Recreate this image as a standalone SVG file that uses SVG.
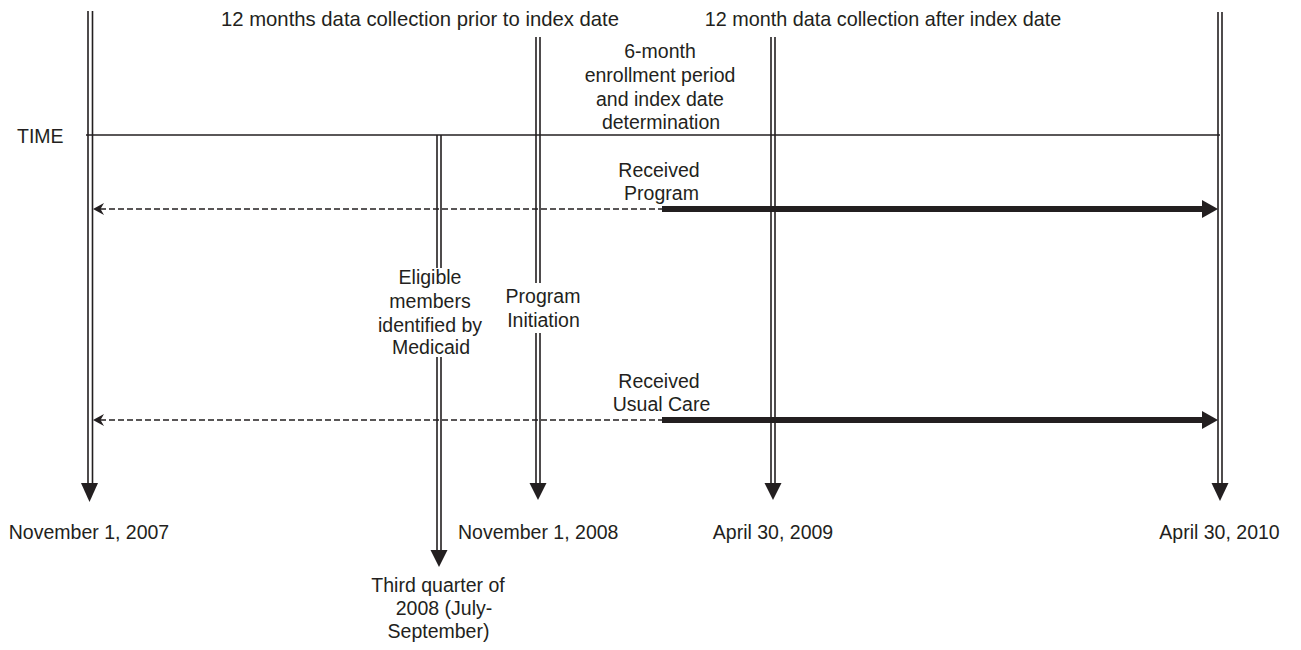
<svg xmlns="http://www.w3.org/2000/svg" width="1301" height="650" viewBox="0 0 1301 650">
<style>
text{font-family:"Liberation Sans",Arial,sans-serif;font-size:19.5px;fill:#231f20}
.c{text-anchor:middle}
.v{stroke:#231f20;stroke-width:1.6;fill:none}
.ah{fill:#231f20}
.thin{stroke:#231f20;stroke-width:1.5;fill:none}
.dash{stroke:#231f20;stroke-width:1.6;stroke-dasharray:6,3;fill:none}
.thick{stroke:#231f20;stroke-width:6;fill:none}
</style>
<rect width="1301" height="650" fill="#fff"/>

<g id="time-axis">
<text x="17" y="143">TIME</text>
<line class="thin" x1="86" y1="135" x2="1220" y2="135"/>
</g>

<g id="headers">
<text class="c" x="420" y="26" style="font-size:20.3px">12 months data collection prior to index date</text>
<text class="c" x="883" y="26" style="font-size:19.8px">12 month data collection after index date</text>
<text class="c" x="660" y="57.5">6-month</text>
<text class="c" x="660" y="81.5">enrollment period</text>
<text class="c" x="660" y="105.5">and index date</text>
<text class="c" x="661" y="129">determination</text>
</g>

<g id="node-nov2007">
<line class="v" x1="88" y1="11" x2="88" y2="485"/>
<line class="v" x1="92.5" y1="11" x2="92.5" y2="485"/>
<path class="ah" d="M81,483 L98,483 L89.5,502 Z"/>
<text class="c" x="89" y="539">November 1, 2007</text>
</g>

<g id="node-eligible">
<line class="v" x1="437" y1="135" x2="437" y2="268"/>
<line class="v" x1="441" y1="135" x2="441" y2="268"/>
<line class="v" x1="437" y1="357" x2="437" y2="552"/>
<line class="v" x1="441" y1="357" x2="441" y2="552"/>
<path class="ah" d="M430.5,550 L447.5,550 L439,567 Z"/>
<text class="c" x="430" y="284">Eligible</text>
<text class="c" x="430" y="307.7">members</text>
<text class="c" x="430" y="331.5">identified by</text>
<text class="c" x="431" y="354">Medicaid</text>
<text class="c" x="438" y="591.5">Third quarter of</text>
<text class="c" x="444" y="614.5">2008 (July-</text>
<text class="c" x="438.5" y="638">September)</text>
</g>

<g id="node-program-initiation">
<line class="v" x1="536" y1="37" x2="536" y2="283"/>
<line class="v" x1="540" y1="37" x2="540" y2="283"/>
<line class="v" x1="536" y1="333" x2="536" y2="485"/>
<line class="v" x1="540" y1="333" x2="540" y2="485"/>
<path class="ah" d="M529.5,483 L546.5,483 L538,500 Z"/>
<text class="c" x="543" y="303.3">Program</text>
<text class="c" x="543.5" y="326.7">Initiation</text>
<text x="458" y="539">November 1, 2008</text>
</g>

<g id="node-apr2009">
<line class="v" x1="771" y1="37" x2="771" y2="485"/>
<line class="v" x1="775" y1="37" x2="775" y2="485"/>
<path class="ah" d="M764.5,483 L781.5,483 L773,500 Z"/>
<text class="c" x="773" y="539">April 30, 2009</text>
</g>

<g id="node-apr2010">
<line class="v" x1="1218" y1="12" x2="1218" y2="485"/>
<line class="v" x1="1222" y1="12" x2="1222" y2="485"/>
<path class="ah" d="M1211.5,483 L1228.5,483 L1220,501 Z"/>
<text class="c" x="1219.5" y="539">April 30, 2010</text>
</g>

<g id="connectors">
<g id="received-program">
<text class="c" x="659" y="176.7">Received</text>
<text class="c" x="661.5" y="200">Program</text>
<line class="dash" x1="100" y1="209" x2="662" y2="209"/>
<path class="ah" d="M93,209 L104,203 L100.5,209 L104,215 Z"/>
<line class="thick" x1="662" y1="209" x2="1204" y2="209"/>
<path class="ah" d="M1202,200 L1218,209 L1202,218 Z"/>
</g>
<g id="received-usual-care">
<text class="c" x="659" y="387.7">Received</text>
<text class="c" x="661.5" y="411">Usual Care</text>
<line class="dash" x1="100" y1="420" x2="662" y2="420"/>
<path class="ah" d="M93,420 L104,414 L100.5,420 L104,426 Z"/>
<line class="thick" x1="662" y1="420" x2="1204" y2="420"/>
<path class="ah" d="M1202,411 L1218,420 L1202,429 Z"/>
</g>
</g>
</svg>
